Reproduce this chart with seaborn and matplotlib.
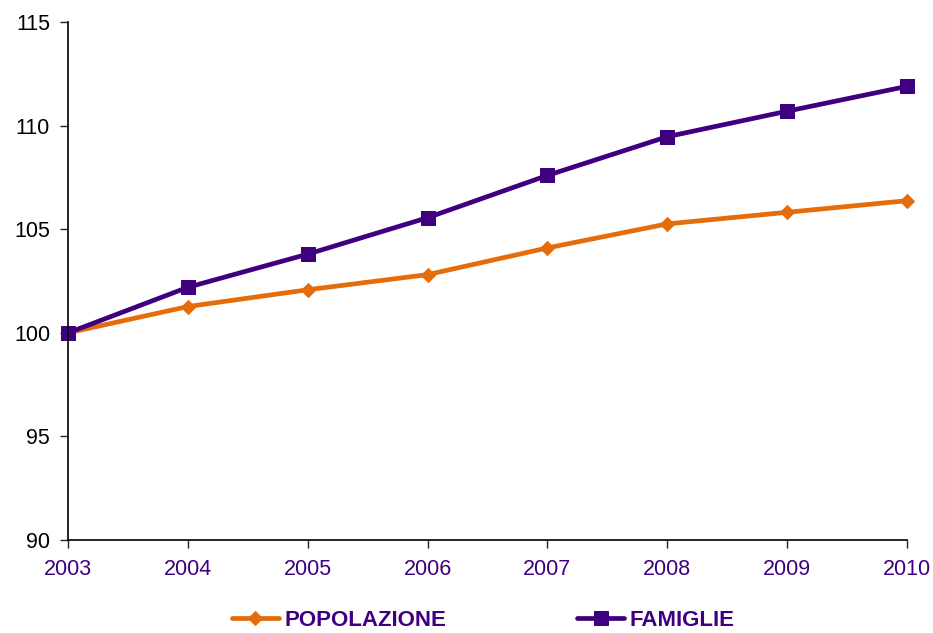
import seaborn as sns
import matplotlib.pyplot as plt
import pandas as pd

# dati (indice 2003 = 100)
anni = [2003, 2004, 2005, 2006, 2007, 2008, 2009, 2010]
popolazione = [100.0, 101.27, 102.08, 102.81, 104.1, 105.26, 105.82, 106.38]
famiglie = [100.0, 102.2, 103.8, 105.56, 107.6, 109.47, 110.7, 111.9]

arancio = '#E46C0A'
viola = '#3F0080'

sns.set_style('white')
plt.rcParams['font.family'] = ['Liberation Sans', 'DejaVu Sans']

df = pd.DataFrame({'anno': anni, 'POPOLAZIONE': popolazione, 'FAMIGLIE': famiglie})

fig = plt.figure(figsize=(9.33, 6.33), dpi=100)
ax = fig.add_axes([0.073, 0.147, 0.899, 0.818])

sns.lineplot(x='anno', y='POPOLAZIONE', data=df, ax=ax, color=arancio, lw=3.4,
             marker='D', markersize=7.5, markeredgecolor=arancio, label='POPOLAZIONE', clip_on=False)
sns.lineplot(x='anno', y='FAMIGLIE', data=df, ax=ax, color=viola, lw=3.4,
             marker='s', markersize=9.5, markeredgecolor=viola, label='FAMIGLIE', clip_on=False)

ax.set_xlim(2003, 2010)
ax.set_ylim(90, 115)
ax.set_xticks(anni)
ax.set_yticks([90, 95, 100, 105, 110, 115])
ax.set_xlabel('')
ax.set_ylabel('')

for s in ['top', 'right']:
    ax.spines[s].set_visible(False)
for s in ['left', 'bottom']:
    ax.spines[s].set_color('black')
    ax.spines[s].set_linewidth(1.2)

ax.tick_params(axis='y', direction='out', length=6, width=1, left=True,
               labelsize=15.5, pad=7, labelcolor='black')
ax.tick_params(axis='x', direction='out', length=6, width=1, bottom=True,
               labelsize=15.5, pad=8, labelcolor=viola)

leg = ax.legend(loc='center', bbox_to_anchor=(0.495, -0.155), ncol=2, frameon=False,
                handlelength=2.1, columnspacing=5.9, handletextpad=0.25,
                borderpad=0.2, prop={'weight': 'bold', 'size': 16})
for t in leg.get_texts():
    t.set_color(viola)

fig.savefig('out.png', dpi=100)
